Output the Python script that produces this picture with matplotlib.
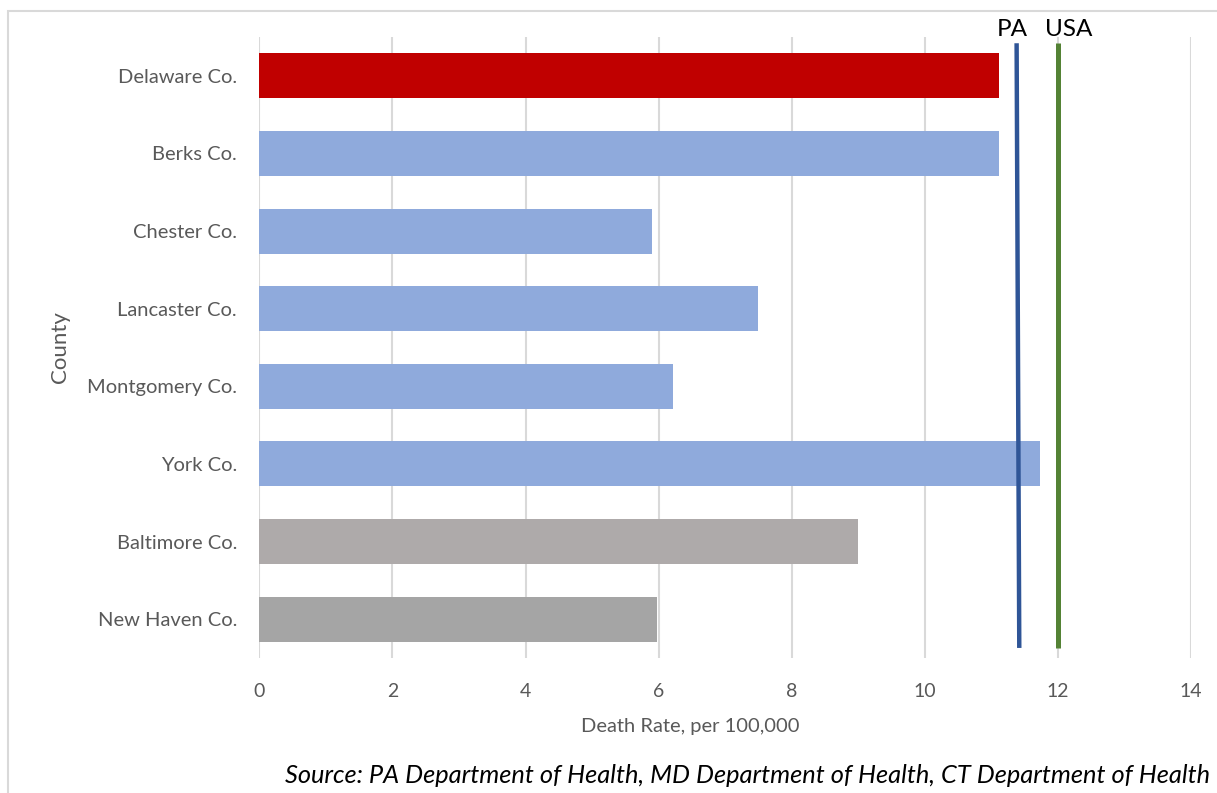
import matplotlib

matplotlib.use("Agg")
import matplotlib.pyplot as plt
from matplotlib.patches import Rectangle

counties = ["Delaware Co.", "Berks Co.", "Chester Co.", "Lancaster Co.",
            "Montgomery Co.", "York Co.", "Baltimore Co.", "New Haven Co."]
death_rates = [11.12, 11.12, 5.9, 7.5, 6.22, 11.73, 9.0, 5.98]
bar_colors = ["#C00000", "#8FAADC", "#8FAADC", "#8FAADC",
              "#8FAADC", "#8FAADC", "#AEAAAA", "#A5A5A5"]
pa_rate = [11.38, 11.42]   # reference line drawn slightly slanted in source
usa_rate = [12.0, 12.0]
x_ticks = [0, 2, 4, 6, 8, 10, 12, 14]

plt.rcParams["font.family"] = ["Lato", "DejaVu Sans"]
grey_text = "#595959"

fig = plt.figure(figsize=(12.17, 7.93), dpi=100)
ax = fig.add_axes([0.2131, 0.1702, 0.7655, 0.7831])

ypos = list(range(len(counties)))
ax.barh(ypos, death_rates, height=0.58, color=bar_colors, zorder=2)

# reference lines
ref_y = [-0.42, 7.37]
ax.plot(pa_rate, ref_y, color="#2F5597", lw=3.2, zorder=3, solid_capstyle="butt")
ax.plot(usa_rate, ref_y, color="#548235", lw=3.6, zorder=3, solid_capstyle="butt")
ax.annotate("PA", (pa_rate[0], ref_y[0]), xytext=(-3, 2), textcoords="offset points",
            ha="center", va="bottom", fontsize=17.5, color="black", annotation_clip=False)
ax.annotate("USA", (usa_rate[0], ref_y[0]), xytext=(8, 2), textcoords="offset points",
            ha="center", va="bottom", fontsize=17.5, color="black", annotation_clip=False)

ax.set_xlim(0, 14)
ax.set_ylim(len(counties) - 0.5, -0.5)
ax.set_xticks(x_ticks)
ax.set_yticks(ypos)
ax.set_yticklabels(counties)
ax.grid(axis="x", color="#D9D9D9", lw=1.5, zorder=0)
ax.tick_params(axis="x", length=0, pad=18, labelsize=14, labelcolor=grey_text)
ax.tick_params(axis="y", length=0, pad=16, labelsize=14.5, labelcolor=grey_text)
for s in ax.spines.values():
    s.set_visible(False)

ax.set_xlabel("Death Rate, per 100,000", fontsize=14.5, color=grey_text, va="center")
ax.xaxis.set_label_coords(0.463, -0.111)
ax.set_ylabel("County", fontsize=16, color=grey_text, labelpad=12)

fig.text(0.994, 0.008, "Source: PA Department of Health, MD Department of Health, CT Department of Health",
         ha="right", va="bottom", fontsize=18.3, style="italic", color="black")

# chart frame
fig.patches.append(Rectangle((0.0066, -0.05), 1.1, 1.036, transform=fig.transFigure,
                             fill=False, edgecolor="#D9D9D9", lw=1.5))

fig.savefig("out.png", dpi=100)
